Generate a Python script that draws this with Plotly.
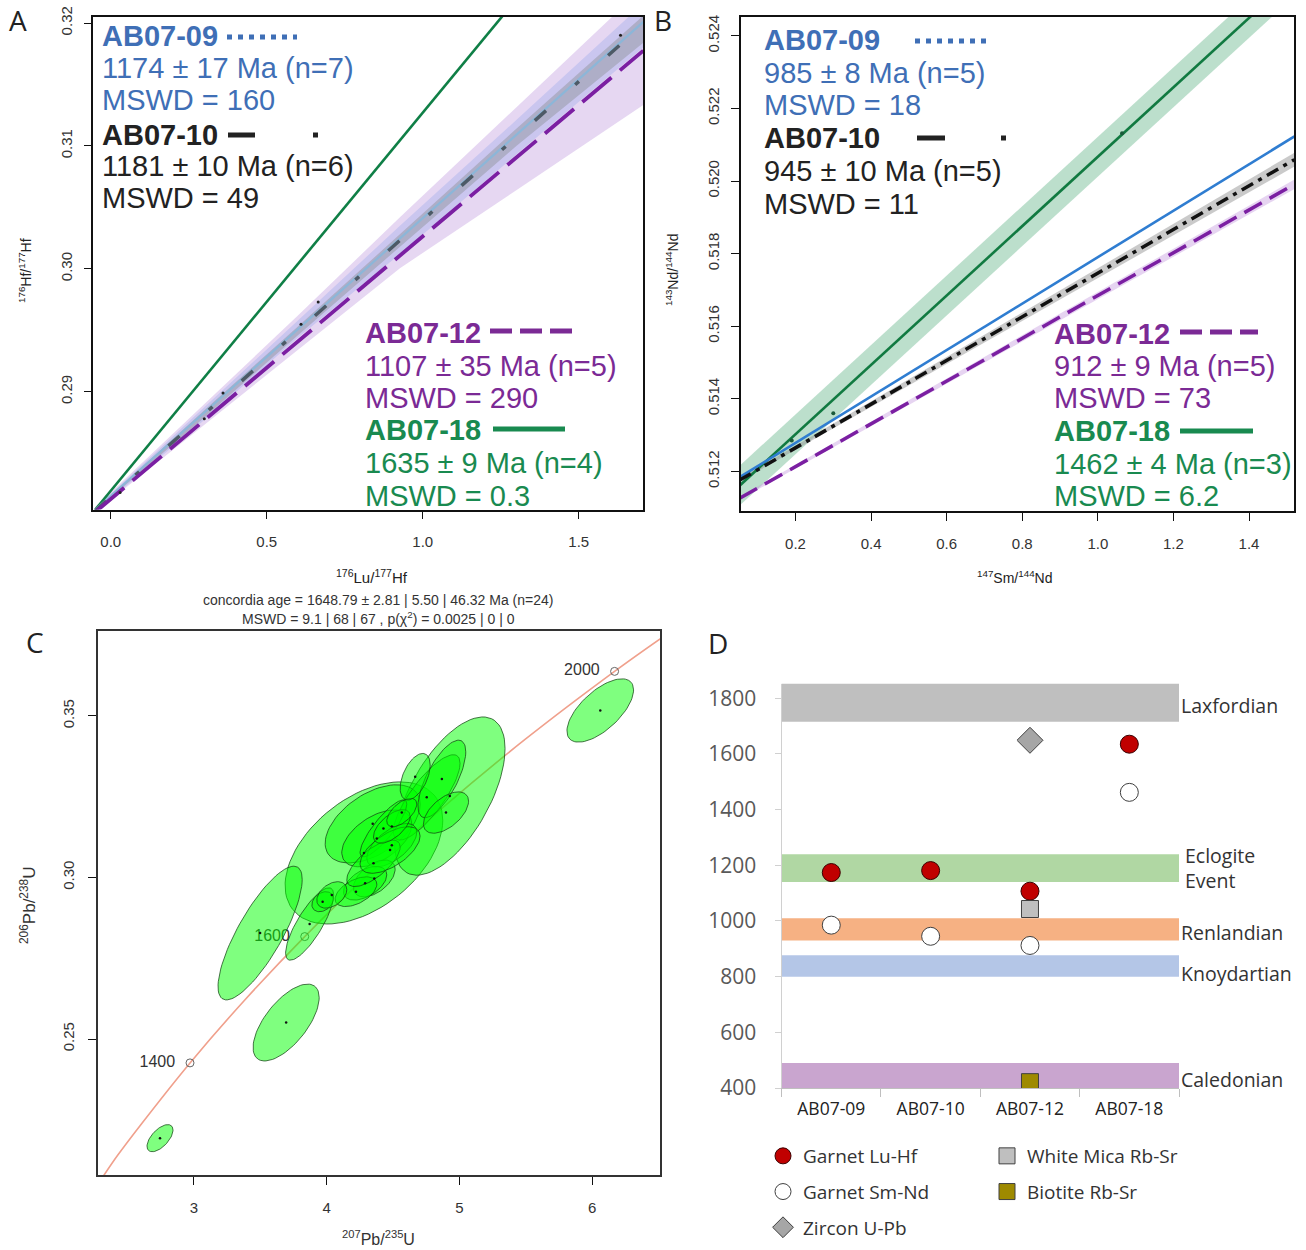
import numpy as np
import plotly.graph_objects as go

W, H = 1306, 1250
def fx(p): return p / W
def fy(p): return 1 - p / H

# ================= DATA =================
# Panel A : Lu-Hf isochrons (176Lu/177Hf vs 176Hf/177Hf)
A_samples = ["AB07-09", "AB07-10", "AB07-12", "AB07-18"]
A_age = [1174, 1181, 1107, 1635]
A_err = [17, 10, 35, 9]
A_n = [7, 6, 5, 4]
A_mswd = ["160", "49", "290", "0.3"]
A_line_x = [-0.05, 1.707]
A_09_y = [0.2804, 0.3201]
A_10_y = [0.2803, 0.3199]
A_12_y = [0.2802, 0.31775]
A_18_x = [-0.05, 1.26]
A_18_y = [0.2804, 0.3207]
A_band_x = [-0.05, 0.3, 0.6, 0.927, 1.3, 1.707]
A_12_lo = [0.2802, 0.2873, 0.2934, 0.30005, 0.3064, 0.31333]
A_12_hi = [0.2806, 0.2890, 0.2962, 0.3042, 0.3131, 0.3229]
A_09_lo = [0.2802, 0.2877, 0.2944, 0.3012, 0.3093, 0.3180]
A_09_hi = [0.2805, 0.2888, 0.2958, 0.3035, 0.3121, 0.3216]
A_10_lo = [0.2803, 0.2879, 0.2946, 0.3018, 0.3100, 0.3184]
A_10_hi = [0.2804, 0.2885, 0.2953, 0.3028, 0.3114, 0.3206]
A_pts_x = [0.03, 0.30, 0.36, 0.61, 0.665, 1.634]
A_pts_y = [0.2818, 0.2878, 0.2899, 0.2955, 0.2973, 0.3190]

# Panel B : Sm-Nd isochrons
B_age = [985, 945, 912, 1462]
B_err = [8, 10, 9, 4]
B_n = [5, 5, 5, 3]
B_mswd = ["18", "11", "73", "6.2"]
B_line_x = [0.052, 1.52]
B_09_y = [0.51184, 0.52123]
B_10_y = [0.51176, 0.52059]
B_12_y = [0.51126, 0.51991]
B_18_x = [0.0, 1.5]
B_18_y = [0.51111, 0.52545]
B_18_lo = [0.51056, 0.52490]
B_18_hi = [0.51166, 0.52600]
B_10_lo = [0.51172, 0.52040]
B_10_hi = [0.51180, 0.52078]
B_12_lo = [0.51122, 0.51978]
B_12_hi = [0.51130, 0.52004]
B_pts_x = [1.064, 0.19, 0.30]
B_pts_y = [0.52132, 0.51285, 0.51360]

# Panel C : U-Pb concordia
C_conc_x = [2.30, 2.425, 2.598, 2.97, 3.381, 3.834, 4.335, 4.887, 5.496, 6.168, 6.53]
C_conc_y = [0.2065, 0.214, 0.2234, 0.2426, 0.262, 0.2817, 0.3018, 0.3221, 0.3428, 0.3638, 0.3744]
C_age_lbl = ["1400", "1600", "2000"]
C_age_x = [2.97, 3.834, 6.168]
C_age_y = [0.2426, 0.2817, 0.3638]
# ellipses: centre x, centre y, half-width x, half-height y, correlation
C_ell_cx = [4.280, 4.927, 3.498, 3.694, 6.060, 2.744, 3.871, 4.346, 4.377, 4.753,
            4.867, 4.898, 4.427, 4.490, 4.358, 4.289, 4.220, 3.969, 4.038, 4.352,
            4.477, 4.490, 4.565, 4.666]
C_ell_cy = [0.3076, 0.3252, 0.2828, 0.2551, 0.3517, 0.2193, 0.2856, 0.3166, 0.3121, 0.3248,
            0.3305, 0.3201, 0.3152, 0.3100, 0.2997, 0.2982, 0.2956, 0.2925, 0.2946, 0.3044,
            0.3085, 0.3158, 0.3201, 0.3312]
C_ell_ax = [0.594, 0.416, 0.317, 0.249, 0.251, 0.098, 0.181, 0.358, 0.264, 0.251,
            0.180, 0.170, 0.176, 0.188, 0.157, 0.163, 0.157, 0.081, 0.113, 0.201,
            0.226, 0.138, 0.113, 0.113]
C_ell_ay = [0.0220, 0.0245, 0.0207, 0.0119, 0.0098, 0.0042, 0.0112, 0.0121, 0.0088, 0.0132,
            0.0120, 0.0064, 0.0088, 0.0067, 0.0057, 0.0052, 0.0046, 0.0031, 0.0041, 0.0072,
            0.0072, 0.0052, 0.0044, 0.0072]
C_ell_rho = [0.46, 0.6, 0.8, 0.65, 0.65, 0.6, 0.8, 0.5, 0.5, 0.8,
             0.7, 0.55, 0.85, 0.6, 0.5, 0.5, 0.5, 0.3, 0.4, 0.7,
             0.6, 0.6, 0.6, 0.5]

# Panel D : age summary
D_cats = ["AB07-09", "AB07-10", "AB07-12", "AB07-18"]
D_luhf = [1174, 1181, 1107, 1635]
D_smnd = [985, 945, 912, 1462]
D_zircon_cat = ["AB07-12"]
D_zircon = [1649]
D_mica_cat = ["AB07-12"]
D_mica = [1043]
D_biot_cat = ["AB07-12"]
D_biot = [421]
D_band_names = ["Laxfordian", "Eclogite<br>Event", "Renlandian", "Knoydartian", "Caledonian"]
D_band_lo = [1716, 1140, 930, 800, 400]
D_band_hi = [1853, 1240, 1010, 877, 490]

# ================= STYLE =================
BLUE, BLACK, PURPLE, GREEN = "#3f6fb6", "#222222", "#7b2a95", "#198a50"
SANS = "Liberation Sans"
fig = go.Figure()

def band(xs, lo, hi, color, xa, ya):
    fig.add_trace(go.Scatter(x=list(xs) + list(xs)[::-1], y=list(lo) + list(hi)[::-1],
                             fill="toself", fillcolor=color, line=dict(width=0),
                             mode="lines", xaxis=xa, yaxis=ya, showlegend=False, hoverinfo="skip"))

def line(xs, ys, color, width, dash, xa, ya):
    fig.add_trace(go.Scatter(x=xs, y=ys, mode="lines", line=dict(color=color, width=width, dash=dash),
                             xaxis=xa, yaxis=ya, showlegend=False, hoverinfo="skip"))

# ---- Panel A ----
band(A_band_x, A_12_lo, A_12_hi, "rgba(190,150,220,0.38)", "x", "y")
band(A_band_x, A_09_lo, A_09_hi, "rgba(150,165,235,0.35)", "x", "y")
band(A_band_x, A_10_lo, A_10_hi, "rgba(140,145,150,0.45)", "x", "y")
line(A_18_x, A_18_y, "#0f7f46", 2.6, "solid", "x", "y")
line(A_line_x, A_09_y, "#8cb6d8", 2.2, "solid", "x", "y")
line(A_line_x, A_10_y, "#4d5a66", 3.5, "15px,39px,5px,39px", "x", "y")
line(A_line_x, A_12_y, "#7b1fa2", 3.8, "38px,11px", "x", "y")
fig.add_trace(go.Scatter(x=A_pts_x, y=A_pts_y, mode="markers", marker=dict(color="#222", size=3),
                         xaxis="x", yaxis="y", showlegend=False))

# ---- Panel B ----
band(B_18_x, B_18_lo, B_18_hi, "rgba(80,170,120,0.38)", "x2", "y2")
band(B_line_x, B_10_lo, B_10_hi, "rgba(150,150,150,0.5)", "x2", "y2")
band(B_line_x, B_12_lo, B_12_hi, "rgba(200,160,225,0.45)", "x2", "y2")
line(B_18_x, B_18_y, "#117a41", 2.6, "solid", "x2", "y2")
line(B_line_x, B_09_y, "#2f7dd1", 2.6, "solid", "x2", "y2")
line(B_line_x, B_10_y, "#111111", 3.5, "13px,6px,4px,6px", "x2", "y2")
line(B_line_x, B_12_y, "#7b1fa2", 3.5, "20px,9px", "x2", "y2")
fig.add_trace(go.Scatter(x=B_pts_x, y=B_pts_y, mode="markers", marker=dict(color="#1a5a3a", size=4),
                         xaxis="x2", yaxis="y2", showlegend=False))

# ---- Panel C ----
fig.add_trace(go.Scatter(x=C_conc_x, y=C_conc_y, mode="lines", line=dict(color="#f0a08c", width=1.6, shape="spline"),
                         xaxis="x3", yaxis="y3", showlegend=False, hoverinfo="skip"))
fig.add_trace(go.Scatter(x=C_age_x, y=C_age_y, mode="markers+text",
                         text=[s + "\u00a0\u00a0" for s in C_age_lbl], textposition="middle left",
                         textfont=dict(family=SANS, size=16, color="#333"),
                         marker=dict(symbol="circle-open", size=8, color="#666", line=dict(width=1)),
                         xaxis="x3", yaxis="y3", showlegend=False))
t = np.linspace(0, 2 * np.pi, 80)
for cx, cy, ax_, ay_, r in zip(C_ell_cx, C_ell_cy, C_ell_ax, C_ell_ay, C_ell_rho):
    ex = cx + ax_ * np.cos(t)
    ey = cy + ay_ * (r * np.cos(t) + np.sqrt(1 - r * r) * np.sin(t))
    fig.add_trace(go.Scatter(x=ex, y=ey, mode="lines", fill="toself", fillcolor="rgba(0,255,0,0.5)",
                             line=dict(color="rgba(20,70,20,0.75)", width=1),
                             xaxis="x3", yaxis="y3", showlegend=False, hoverinfo="skip"))
fig.add_trace(go.Scatter(x=C_ell_cx, y=C_ell_cy, mode="markers", marker=dict(color="#111", size=2.5),
                         xaxis="x3", yaxis="y3", showlegend=False))

# ---- Panel D ----
D_band_colors = ["#bfbfbf", "#b0d7a3", "#f6b183", "#b4c6e7", "#c9a5cf"]
D_label_shift = [-3, 0, -3, -8, -4]
D_label_xshift = [0, 4, 0, 0, 0]
for lo, hi, c in zip(D_band_lo, D_band_hi, D_band_colors):
    fig.add_shape(type="rect", xref="x4 domain", yref="y4", x0=0, x1=1, y0=lo, y1=hi,
                  fillcolor=c, line=dict(width=0), layer="below")
for name, lo, hi, ys, xs in zip(D_band_names, D_band_lo, D_band_hi, D_label_shift, D_label_xshift):
    fig.add_annotation(xref="x4 domain", yref="y4", x=1, y=(lo + hi) / 2, text=name, showarrow=False,
                       xanchor="left", yanchor="middle", align="left", xshift=0 + xs, yshift=ys,
                       font=dict(family="Open Sans", size=19.5, color="#333"))

mk_line = dict(color="#404040", width=1)
fig.add_trace(go.Scatter(x=D_cats, y=D_luhf, mode="markers", name="Garnet Lu-Hf",
                         marker=dict(symbol="circle", size=18, color="#c00000", line=dict(color="#3a0000", width=1)),
                         xaxis="x4", yaxis="y4", legend="legend", legendgroup="a"))
fig.add_trace(go.Scatter(x=D_cats, y=D_smnd, mode="markers", name="Garnet Sm-Nd",
                         marker=dict(symbol="circle", size=18, color="white", line=mk_line),
                         xaxis="x4", yaxis="y4", legend="legend", legendgroup="b"))
fig.add_trace(go.Scatter(x=D_zircon_cat, y=D_zircon, mode="markers", name="Zircon U-Pb",
                         marker=dict(symbol="diamond", size=20, color="#a6a6a6", line=mk_line),
                         xaxis="x4", yaxis="y4", legend="legend", legendgroup="c"))
fig.add_trace(go.Scatter(x=D_mica_cat, y=D_mica, mode="markers", name="White Mica Rb-Sr",
                         marker=dict(symbol="square", size=17, color="#bfbfbf", line=mk_line),
                         xaxis="x4", yaxis="y4", legend="legend2", legendgroup="d"))
fig.add_trace(go.Scatter(x=D_biot_cat, y=D_biot, mode="markers", name="Biotite Rb-Sr",
                         marker=dict(symbol="square", size=17, color="#9e8a00", line=mk_line),
                         xaxis="x4", yaxis="y4", legend="legend2", legendgroup="e"))

# ================= AXES =================
tickfont = dict(family=SANS, size=15, color="#333")
frame = dict(showline=True, mirror=True, linecolor="#111", linewidth=1.5, ticks="outside", ticklen=8,
             tickcolor="#111", showgrid=False, zeroline=False, tickfont=tickfont, automargin=False)
fig.update_layout(
    xaxis=dict(domain=[fx(93.3), fx(643.3)], range=[-0.0558, 1.707], anchor="y", tick0=0, dtick=0.5,
               tickformat=".1f", ticklabelstandoff=10, **frame),
    yaxis=dict(domain=[fy(509.5), fy(17)], range=[0.28042, 0.32049], anchor="x", tick0=0.29, dtick=0.01,
               tickformat=".2f", tickangle=-90, ticklabelstandoff=6, **frame),
    xaxis2=dict(domain=[fx(741), fx(1294)], range=[0.0558, 1.519], anchor="y2", tick0=0, dtick=0.2,
                tickformat=".1f", ticklabelstandoff=10, **frame),
    yaxis2=dict(domain=[fy(511), fy(17)], range=[0.51091, 0.52452], anchor="x2", tick0=0.512, dtick=0.002,
                tickformat=".3f", tickangle=-90, ticklabelstandoff=6, **frame),
    xaxis3=dict(domain=[fx(98), fx(660)], range=[2.277, 6.51], anchor="y3", dtick=1,
                ticklabelstandoff=10, **frame),
    yaxis3=dict(domain=[fy(1175), fy(631)], range=[0.2079, 0.3763], anchor="x3", tick0=0.25, dtick=0.05,
                tickformat=".2f", tickangle=-90, ticklabelstandoff=8, **frame),
    xaxis4=dict(domain=[fx(781.6), fx(1179)], anchor="y4", type="category", categoryorder="array",
                categoryarray=D_cats, range=[-0.5, 3.5], tickson="boundaries", ticks="outside", ticklen=8,
                tickcolor="#bfbfbf", showline=True, linecolor="#bfbfbf", linewidth=1.2, showgrid=False,
                tickfont=dict(family="Open Sans", size=17.5, color="#222"), ticklabelstandoff=5,
                automargin=False),
    yaxis4=dict(domain=[fy(1088), fy(683.5)], anchor="x4", range=[400, 1853], tick0=400, dtick=200,
                showline=True, linecolor="#d0d0d0", linewidth=1.2, ticks="outside", ticklen=6,
                tickcolor="#d0d0d0", showgrid=False, zeroline=False,
                tickfont=dict(family="Open Sans", size=21, color="#595959"), ticklabelstandoff=14,
                automargin=False),
)
for ax in ["xaxis", "yaxis", "xaxis2", "yaxis2", "xaxis3", "yaxis3"]:
    fig.layout[ax].linecolor = "#333" if ax.endswith("3") else "#111"

# ================= TEXT =================
def ann(x, y, text, size=29, color="#222", family=SANS, anchor="left", angle=0):
    fig.add_annotation(xref="paper", yref="paper", x=fx(x), y=fy(y), text=text, showarrow=False,
                       xanchor=anchor, yanchor="middle", textangle=angle,
                       font=dict(family=family, size=size, color=color))

cols = [BLUE, BLACK, PURPLE, GREEN]
A_rows = [(100, [36, 68, 100]), (100, [135, 166, 198]), (363, [333, 366, 398]), (363, [430, 463, 496])]
for i, (x0, ys) in enumerate(A_rows):
    ann(x0, ys[0], "<b>%s</b>" % A_samples[i], color=cols[i])
    ann(x0, ys[1], "%d ± %d Ma (n=%d)" % (A_age[i], A_err[i], A_n[i]), color=cols[i])
    ann(x0, ys[2], "MSWD = %s" % A_mswd[i], color=cols[i])
B_rows = [(762, [40, 73, 105]), (762, [138, 171, 204]), (1052, [334, 366, 398]), (1052, [431, 464, 496])]
for i, (x0, ys) in enumerate(B_rows):
    ann(x0, ys[0], "<b>%s</b>" % A_samples[i], color=cols[i])
    ann(x0, ys[1], "%d ± %d Ma (n=%d)" % (B_age[i], B_err[i], B_n[i]), color=cols[i])
    ann(x0, ys[2], "MSWD = %s" % B_mswd[i], color=cols[i])

def key(x0, x1, y, color, dash, width=5):
    fig.add_shape(type="line", xref="paper", yref="paper", x0=fx(x0), x1=fx(x1), y0=fy(y), y1=fy(y),
                  line=dict(color=color, width=width, dash=dash))
key(227, 297, 37, BLUE, "5px,6px")
key(228, 318, 135, BLACK, "27px,58px,5px,100px")
key(490, 572, 331, PURPLE, "22px,8px")
key(493, 565, 429, GREEN, "solid")
key(915, 986, 41, BLUE, "5px,6px")
key(917, 1006, 138, BLACK, "28px,56px,5px,100px")
key(1180, 1258, 332, PURPLE, "22px,8px")
key(1180, 1253, 431, GREEN, "solid")

# axis titles
ann(25, 270, "<sup>176</sup>Hf/<sup>177</sup>Hf", size=14, color="#222", anchor="center", angle=-90)
ann(372, 576, "<sup>176</sup>Lu/<sup>177</sup>Hf", size=15, color="#222", anchor="center")
ann(672, 270, "<sup>143</sup>Nd/<sup>144</sup>Nd", size=14, color="#222", anchor="center", angle=-90)
ann(1015, 577, "<sup>147</sup>Sm/<sup>144</sup>Nd", size=14, color="#222", anchor="center")
ann(378, 600, "concordia age = 1648.79 ± 2.81 | 5.50 | 46.32 Ma (n=24)", size=14, color="#333", anchor="center")
ann(378, 618, "MSWD = 9.1 | 68 | 67 , p(χ<sup>2</sup>) = 0.0025 | 0 | 0", size=14, color="#333", anchor="center")
ann(28, 905, "<sup>206</sup>Pb/<sup>238</sup>U", size=17, color="#333", anchor="center", angle=-90)
ann(378, 1238, "<sup>207</sup>Pb/<sup>235</sup>U", size=16, color="#333", anchor="center")

for lbl, x, y in [("A", 18, 20), ("B", 663, 20), ("C", 35, 642), ("D", 718, 643)]:
    ann(x, y, lbl, size=28, color="#222", family="Open Sans", anchor="center")

fig.update_layout(
    width=W, height=H, margin=dict(l=0, r=0, t=0, b=0, autoexpand=False),
    paper_bgcolor="white", plot_bgcolor="white", hovermode=False,
    legend=dict(x=fx(763), y=fy(1137), xanchor="left", yanchor="top", tracegroupgap=8,
                font=dict(family="Open Sans", size=19, color="#333"), bgcolor="rgba(0,0,0,0)"),
    legend2=dict(x=fx(987), y=fy(1137), xanchor="left", yanchor="top", tracegroupgap=8,
                 font=dict(family="Open Sans", size=19, color="#333"), bgcolor="rgba(0,0,0,0)"),
)
fig.write_html("out.html", config={"displayModeBar": False},
               post_script="document.body.style.margin='0px';document.body.style.overflow='hidden';")
